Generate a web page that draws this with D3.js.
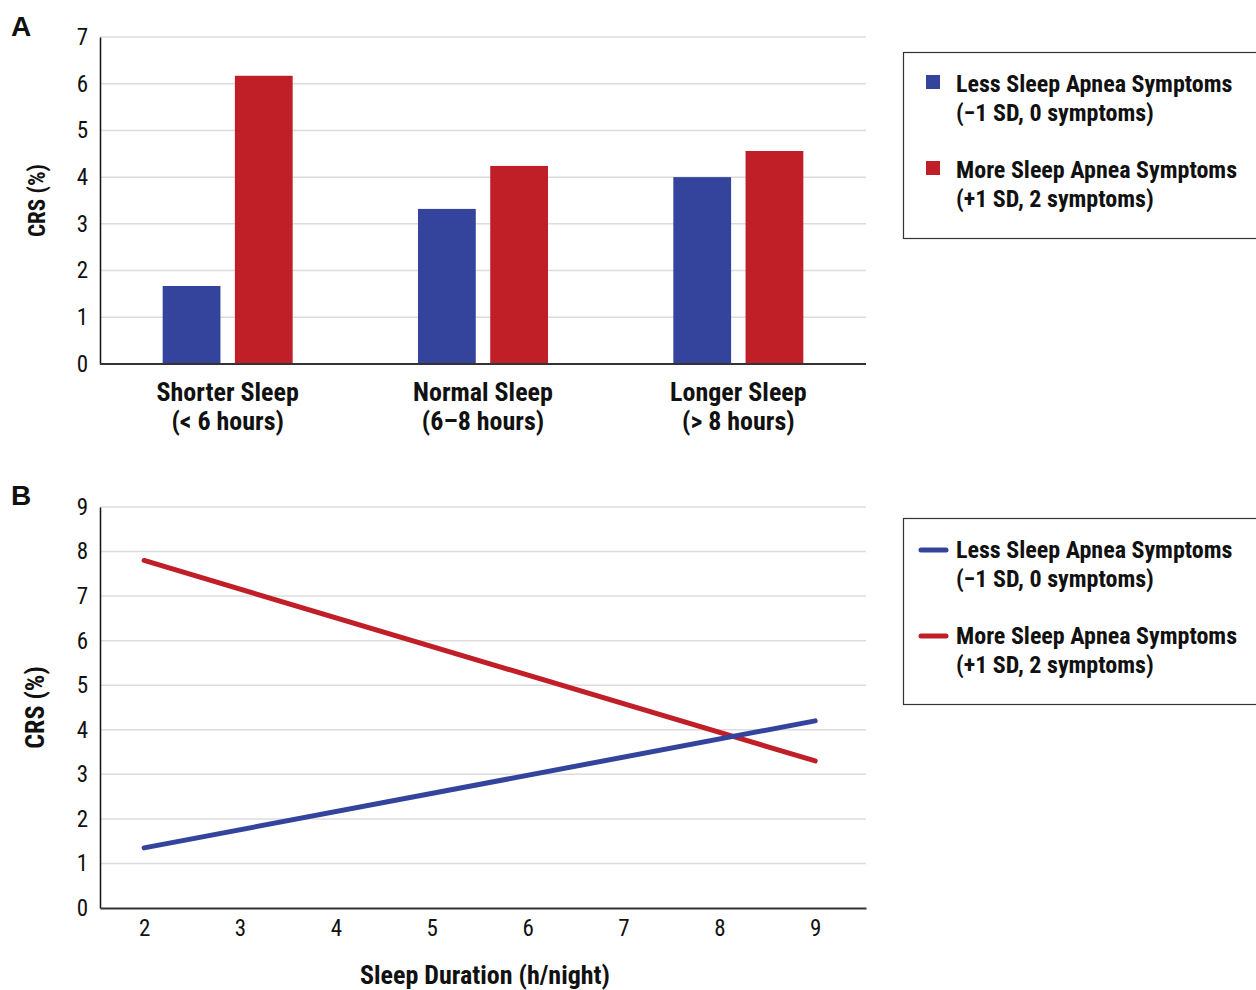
<!DOCTYPE html>
<html>
<head>
<meta charset="utf-8">
<script src="https://cdn.jsdelivr.net/npm/d3@7"></script>
<style>
  body { margin: 0; background: #fff; }
  svg text { font-family: "Liberation Sans Narrow", "Arial Narrow", "Roboto Condensed", sans-serif; fill: #111; }
</style>
</head>
<body>
<div id="svg"></div>
<script>
// panel A: bars
const categories = [["Shorter Sleep", "(< 6 hours)"], ["Normal Sleep", "(6\u20138 hours)"], ["Longer Sleep", "(> 8 hours)"]];
const lessValues = [1.67, 3.32, 4.0];
const moreValues = [6.17, 4.24, 4.56];
const yTicksA = [0, 1, 2, 3, 4, 5, 6, 7];

// panel B: lines (end points only)
const durations = [2, 9];
const lessLine = [1.35, 4.2];
const moreLine = [7.8, 3.3];
const yTicksB = [0, 1, 2, 3, 4, 5, 6, 7, 8, 9];
const xTicksB = [2, 3, 4, 5, 6, 7, 8, 9];

const seriesNames = [["Less Sleep Apnea Symptoms", "(\u22121 SD, 0 symptoms)"], ["More Sleep Apnea Symptoms", "(+1 SD, 2 symptoms)"]];
const blue = "#34449c";
const red = "#c11f27";
const fontStack = '"Liberation Sans Narrow", "Arial Narrow", "Roboto Condensed", sans-serif';

const width = 1256, height = 990;
const left = 100, right = 866;

let svg = d3.select('#svg').append('svg')
    .attr('width', width)
    .attr('height', height);

function styleTicks(g) {
    g.selectAll('text')
        .attr('font-size', 23)
        .style('font-family', fontStack)
        .attr('fill', '#111');
}

// ---------- panel A ----------
const yA = d3.scaleLinear().domain([0, 7]).range([364, 37]);
const x0 = d3.scaleBand().domain(d3.range(categories.length)).range([left, right]).padding(0);
const bw = x0.bandwidth();
const x1 = d3.scaleBand().domain([0, 1]).range([bw / 2 - 65, bw / 2 + 65]).paddingInner(0.2);

let gA = svg.append('g');

gA.append('g')
    .selectAll('line')
    .data(yTicksA.slice(1))
    .enter().append('line')
        .attr('x1', left).attr('x2', right)
        .attr('y1', d => yA(d)).attr('y2', d => yA(d))
        .attr('stroke', '#dcdcdc').attr('stroke-width', 1.5);

gA.append('g')
    .attr('transform', `translate(${left}, 0)`)
    .call(d3.axisLeft(yA).tickValues(yTicksA).tickFormat(d3.format('d')).tickSize(0).tickPadding(12))
    .call(g => g.select('.domain').attr('stroke', '#111').attr('stroke-width', 1.5))
    .call(styleTicks);

const barData = [];
categories.forEach((c, i) => {
    barData.push({cat: i, s: 0, v: lessValues[i]});
    barData.push({cat: i, s: 1, v: moreValues[i]});
});

gA.append('g').selectAll('rect')
    .data(barData)
    .enter().append('rect')
        .attr('x', d => x0(d.cat) + x1(d.s))
        .attr('y', d => yA(d.v))
        .attr('width', x1.bandwidth())
        .attr('height', d => yA(0) - yA(d.v))
        .attr('fill', d => d.s === 0 ? blue : red);

gA.append('line')
    .attr('x1', left).attr('x2', right)
    .attr('y1', yA(0)).attr('y2', yA(0))
    .attr('stroke', '#333').attr('stroke-width', 2);

let catLabels = gA.append('g').selectAll('text')
    .data(categories)
    .enter().append('text')
        .attr('text-anchor', 'middle')
        .attr('font-size', 26)
        .attr('font-weight', 'bold');
catLabels.append('tspan')
    .attr('x', (d, i) => x0(i) + bw / 2).attr('y', 401)
    .text(d => d[0]);
catLabels.append('tspan')
    .attr('x', (d, i) => x0(i) + bw / 2).attr('y', 430)
    .text(d => d[1]);

svg.append('text')
    .attr('transform', `translate(45, ${(yA(0) + yA(7)) / 2}) rotate(-90)`)
    .attr('text-anchor', 'middle')
    .attr('font-size', 23).attr('font-weight', 'bold')
    .text('CRS (%)');

svg.append('text')
    .attr('x', 11).attr('y', 36)
    .attr('font-size', 28).attr('font-weight', 'bold')
    .style('font-family', '"Liberation Sans", Arial, sans-serif')
    .text('A');

// ---------- panel B ----------
const yB = d3.scaleLinear().domain([0, 9]).range([908, 507]);
const xB = d3.scaleLinear().domain([1.54, 9.53]).range([left, right]);

let gB = svg.append('g');

gB.append('g')
    .selectAll('line')
    .data(yTicksB.slice(1))
    .enter().append('line')
        .attr('x1', left).attr('x2', right)
        .attr('y1', d => yB(d)).attr('y2', d => yB(d))
        .attr('stroke', '#dcdcdc').attr('stroke-width', 1.5);

gB.append('g')
    .attr('transform', `translate(${left}, 0)`)
    .call(d3.axisLeft(yB).tickValues(yTicksB).tickSize(0).tickPadding(12))
    .call(g => g.select('.domain').attr('stroke', '#111').attr('stroke-width', 1.5))
    .call(styleTicks);

gB.append('g')
    .attr('transform', `translate(0, ${yB(0)})`)
    .call(d3.axisBottom(xB).tickValues(xTicksB).tickSize(0).tickPadding(12))
    .call(g => g.select('.domain').attr('stroke', '#333').attr('stroke-width', 2))
    .call(styleTicks);

const line = d3.line().x(d => xB(d[0])).y(d => yB(d[1]));
[[moreLine, red], [lessLine, blue]].forEach(([vals, col]) => {
    gB.append('path')
        .datum(durations.map((d, i) => [d, vals[i]]))
        .attr('d', line)
        .attr('fill', 'none')
        .attr('stroke', col)
        .attr('stroke-width', 5)
        .attr('stroke-linecap', 'round');
});

svg.append('text')
    .attr('transform', `translate(44, ${(yB(0) + yB(9)) / 2}) rotate(-90)`)
    .attr('text-anchor', 'middle')
    .attr('font-size', 26).attr('font-weight', 'bold')
    .text('CRS (%)');

svg.append('text')
    .attr('x', 485).attr('y', 984)
    .attr('text-anchor', 'middle')
    .attr('font-size', 26).attr('font-weight', 'bold')
    .text('Sleep Duration (h/night)');

svg.append('text')
    .attr('x', 11).attr('y', 505)
    .attr('font-size', 28).attr('font-weight', 'bold')
    .style('font-family', '"Liberation Sans", Arial, sans-serif')
    .text('B');

// ---------- legends ----------
function legend(top, kind) {
    let g = svg.append('g');
    g.append('rect')
        .attr('x', 903.5).attr('y', top + 0.5)
        .attr('width', 360).attr('height', 186)
        .attr('fill', 'none').attr('stroke', '#333').attr('stroke-width', 1.2);
    seriesNames.forEach((names, i) => {
        const col = i === 0 ? blue : red;
        const base = top + 40 + i * 86;
        if (kind === 'rect') {
            g.append('rect')
                .attr('x', 926).attr('y', base - 17)
                .attr('width', 14).attr('height', 14)
                .attr('fill', col);
        } else {
            g.append('line')
                .attr('x1', 921).attr('x2', 946)
                .attr('y1', base - 8).attr('y2', base - 8)
                .attr('stroke', col).attr('stroke-width', 5)
                .attr('stroke-linecap', 'round');
        }
        let t = g.append('text')
            .attr('font-size', 24).attr('font-weight', 'bold');
        t.append('tspan').attr('x', 956).attr('y', base).text(names[0]);
        t.append('tspan').attr('x', 956).attr('y', base + 29).text(names[1]);
    });
}
legend(52, 'rect');
legend(518, 'line');
</script>
</body>
</html>
